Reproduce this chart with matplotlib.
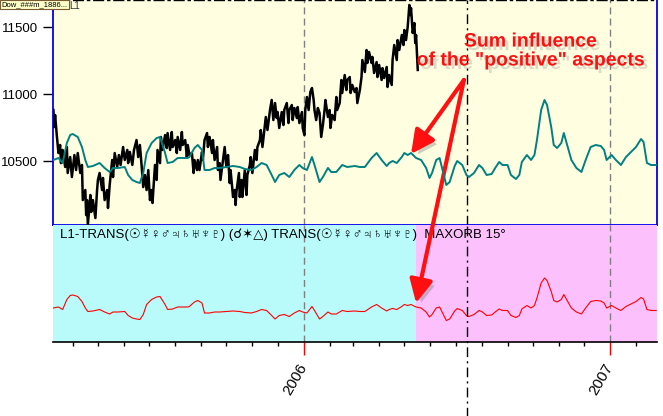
import numpy as np
import matplotlib
matplotlib.use('Agg')
import matplotlib.pyplot as plt
import matplotlib.dates as mdates
import matplotlib.patheffects as pe

plt.rcParams['font.family'] = ['Liberation Sans', 'DejaVu Sans']

# --- data (days counted from 2006-01-01) ---
dow_days = [-298, -297, -296, -294, -292, -290, -289, -287, -284, -282,
            -281, -278, -276, -273, -271, -269, -266, -264, -263, -260,
            -259, -258, -257, -254, -253, -251, -248, -246, -245, -243,
            -240, -239, -237, -234, -233, -231, -228, -227, -225, -222,
            -220, -218, -215, -213, -210, -209, -207, -204, -202, -199,
            -197, -195, -193, -191, -189, -187, -185, -183, -181, -180,
            -177, -175, -174, -171, -170, -168, -165, -163, -162, -159,
            -157, -156, -153, -151, -150, -147, -145, -144, -141, -139,
            -138, -136, -133, -131, -130, -127, -126, -124, -121, -120,
            -118, -115, -114, -112, -109, -108, -106, -103, -102, -100,
            -99, -96, -94, -92, -90, -88, -87, -84, -82, -81,
            -80, -77, -76, -74, -73, -70, -68, -67, -64, -63,
            -61, -58, -56, -55, -52, -51, -49, -46, -45, -43,
            -40, -38, -36, -34, -32, -31, -29, -26, -24, -23,
            -20, -18, -17, -14, -13, -11, -8, -7, -5, -2,
            -1, 1, 2, 4, 6, 8, 10, 12, 13, 15,
            17, 19, 21, 23, 25, 26, 29, 31, 32, 34,
            37, 39, 40, 43, 45, 46, 49, 51, 52, 55,
            56, 58, 61, 63, 64, 67, 69, 70, 73, 75,
            76, 78, 81, 82, 84, 87, 88, 90, 93, 94,
            96, 99, 100, 102, 105, 106, 108, 111, 112, 114,
            117, 119, 120, 122, 124, 126, 127, 128, 130, 132,
            133, 134, 136]
dow_price = [10883, 10756, 10846, 10696, 10562, 10622, 10487, 10585, 10458, 10607,
             10413, 10532, 10383, 10547, 10435, 10562, 10413, 10473, 10211, 10286,
             10099, 10211, 10025, 10249, 10122, 10211, 10077, 10286, 10361, 10413,
             10286, 10376, 10211, 10286, 10152, 10323, 10510, 10383, 10562, 10458,
             10547, 10473, 10607, 10510, 10585, 10487, 10570, 10473, 10585, 10659,
             10532, 10622, 10473, 10308, 10398, 10286, 10435, 10211, 10286, 10189,
             10473, 10361, 10585, 10487, 10682, 10585, 10696, 10599, 10711, 10585,
             10719, 10607, 10659, 10562, 10682, 10585, 10719, 10622, 10659, 10532,
             10622, 10547, 10562, 10413, 10510, 10435, 10510, 10435, 10570, 10510,
             10659, 10711, 10607, 10682, 10562, 10659, 10510, 10607, 10435, 10487,
             10361, 10510, 10607, 10458, 10547, 10338, 10435, 10234, 10286, 10174,
             10271, 10413, 10234, 10361, 10234, 10435, 10249, 10398, 10473, 10532,
             10413, 10585, 10510, 10607, 10659, 10734, 10607, 10771, 10831, 10734,
             10883, 10958, 10808, 10935, 10823, 10868, 10749, 10868, 10771, 10883,
             10935, 10786, 10883, 10920, 10808, 10898, 10823, 10905, 10786, 10868,
             10749, 10696, 10883, 10980, 10883, 11017, 11047, 10958, 10883, 10808,
             10898, 10861, 10682, 10771, 10883, 10958, 10831, 10883, 10749, 10846,
             10808, 10980, 10883, 10935, 11107, 11010, 11144, 11032, 11107, 11129,
             11010, 11070, 11017, 11047, 10935, 11032, 11129, 11256, 11167, 11331,
             11234, 11316, 11234, 11279, 11159, 11241, 11129, 11219, 11107, 11196,
             11122, 11204, 11055, 11144, 11070, 11256, 11368, 11256, 11405, 11331,
             11443, 11368, 11480, 11405, 11502, 11667, 11592, 11644, 11458, 11532,
             11383, 11443, 11182]

infl_days = [-298, -292, -287, -282, -278, -275, -269, -264, -260, -257,
             -251, -243, -237, -231, -227, -221, -213, -209, -204, -199,
             -195, -191, -187, -181, -175, -171, -165, -162, -156, -150,
             -144, -138, -136, -130, -126, -121, -118, -112, -106, -100,
             -92, -84, -76, -70, -62, -56, -50, -44, -38, -34,
             -29, -23, -17, -11, -5, -1, 4, 10, 13, 19,
             23, 29, 33, 39, 46, 52, 61, 67, 73, 81,
             87, 93, 99, 102, 106, 111, 117, 120, 124, 128,
             134, 140, 146, 150, 153, 158, 162, 165, 170, 174,
             180, 183, 189, 194, 197, 203, 209, 213, 218, 224,
             229, 233, 237, 243, 247, 253, 257, 260, 266, 271,
             275, 278, 283, 287, 290, 295, 298, 302, 307, 310,
             314, 319, 325, 331, 336, 342, 348, 354, 358, 361,
             367, 372, 378, 384, 390, 396, 402, 405, 409, 414,
             420]
infl_value = [40, 42, 37, 57, 65, 66, 63, 53, 40, 33,
              34, 37, 32, 28, 32, 32, 33, 25, 20, 18,
              17, 27, 47, 57, 62, 63, 47, 37, 38, 42,
              42, 42, 43, 52, 55, 50, 30, 30, 32, 32,
              33, 34, 33, 31, 30, 33, 37, 35, 25, 18,
              25, 27, 23, 30, 35, 32, 30, 43, 35, 18,
              23, 32, 28, 28, 35, 33, 34, 33, 33, 42,
              47, 40, 34, 37, 39, 37, 43, 47, 45, 47,
              42, 40, 32, 22, 27, 40, 42, 32, 15, 18,
              34, 39, 35, 25, 23, 27, 35, 32, 25, 26,
              33, 38, 35, 35, 25, 21, 25, 38, 45, 40,
              45, 60, 90, 100, 95, 73, 55, 52, 57, 67,
              55, 40, 32, 28, 40, 53, 55, 54, 50, 40,
              45, 40, 35, 43, 48, 53, 61, 58, 37, 35,
              35]

price_ticks = [10500, 11000, 11500]
view_days = (-298.5, 421)
pink_from_day = 134       # pink shading starts mid-May 2006
marker_day = 195          # dash-dot vertical marker, mid-July 2006
year_days = [0, 365]

base = mdates.date2num(np.datetime64('2006-01-01'))
d = lambda v: base + np.asarray(v, dtype=float)

fig = plt.figure(figsize=(6.63, 4.16), dpi=100)
W, H = 663, 416
ax = fig.add_axes([53 / W, 1 - 225 / H, 604 / W, 225 / H])
axb = fig.add_axes([53 / W, 1 - 342 / H, 604 / W, 117 / H])

# ---- top panel ----
ax.set_facecolor('#fffee1')
ax.plot(d(dow_days), dow_price, color='black', lw=1.8, zorder=3)
ax.set_xlim(d(view_days))
ax.set_ylim(10025, 11704)
ax.set_yticks(price_ticks)
ax.tick_params(axis='y', length=7, width=1, color='black', pad=4, labelsize=9.5)
ax.tick_params(axis='x', bottom=False, labelbottom=False)
for s in ['left', 'right', 'bottom']:
    ax.spines[s].set_color('#0000ee')
    ax.spines[s].set_linewidth(1.3)
ax.spines['top'].set_color('black')
ax.spines['top'].set_linestyle((0, (7, 3, 1.5, 3)))
ax.spines['top'].set_linewidth(1.0)
for yd in year_days:
    ax.axvline(d(yd), color='#808080', lw=1, ls=(0, (5, 3)), zorder=1)
ax.axvline(d(marker_day), color='black', lw=1, ls=(0, (7, 3, 1.5, 3)), zorder=1)

axt = ax.twinx()
axt.plot(d(infl_days), infl_value, color='#008080', lw=1.4, zorder=2)
axt.set_ylim(-25, 200)
axt.set_yticks([])
for s in axt.spines.values():
    s.set_visible(False)

shadow = [pe.withSimplePatchShadow(offset=(2.5, -2.5), shadow_rgbFace='0.55', alpha=0.3)]
txt = axt.text(0.791, 0.771, 'Sum influence\nof the "positive" aspects',
               transform=ax.transAxes, ha='center', va='center', color='#ff1010',
               fontsize=14, fontweight='bold', linespacing=1.15, zorder=10)
txt.set_path_effects(shadow)

arrow_kw = dict(arrowstyle='-|>,head_length=1.0,head_width=0.5', color='#ff1010',
                lw=3, shrinkA=0, shrinkB=0, mutation_scale=14,
                path_effects=[pe.withSimplePatchShadow(offset=(3, -3), shadow_rgbFace='0.45', alpha=0.35)])
axt.annotate('', xy=(d(128), 46), xytext=(d(191), 11107), textcoords=ax.transData,
             arrowprops=arrow_kw, annotation_clip=False, zorder=10)

# ---- bottom panel ----
axb.set_xlim(d(view_days))
axb.set_ylim(-28, 206)
axb.axvspan(d(view_days[0]), d(pink_from_day), color='#b9fbfb', lw=0, zorder=0)
axb.axvspan(d(pink_from_day), d(view_days[1]), color='#fcc0fc', lw=0, zorder=0)
axb.plot(d(infl_days), infl_value, color='red', lw=0.8, zorder=3)
for yd in year_days:
    axb.axvline(d(yd), color='#808080', lw=1, ls=(0, (5, 3)), zorder=1)
axb.axvline(d(marker_day), ymin=-0.64, ymax=1, color='black', lw=1,
            ls=(0, (7, 3, 1.5, 3)), clip_on=False, zorder=4)
axb.set_yticks([])
for s in ['left', 'right', 'top']:
    axb.spines[s].set_visible(False)
axb.spines['bottom'].set_linewidth(1.2)
axb.xaxis.set_major_locator(mdates.YearLocator())
axb.xaxis.set_minor_locator(mdates.MonthLocator(bymonth=range(2, 13)))
axb.xaxis.set_major_formatter(mdates.DateFormatter('%Y'))
axb.tick_params(axis='x', which='major', length=9, width=1, color='red', pad=7, labelsize=11)
axb.tick_params(axis='x', which='minor', length=3, width=1, color='black')
for lab in axb.get_xticklabels():
    lab.set_rotation(60)
    lab.set_ha('right')
    lab.set_va('center')
    lab.set_rotation_mode('anchor')

axb.text(0.012, 0.975, 'L1-TRANS(\u2609\u263f\u2640\u2642\u2643\u2644\u2645\u2646\u2647) (\u260c\u2736\u25b3) '
         'TRANS(\u2609\u263f\u2640\u2642\u2643\u2644\u2645\u2646\u2647)  MAXORB 15\u00b0',
         transform=axb.transAxes, ha='left', va='top', fontsize=9.5, zorder=5)

axb.annotate('', xy=(d(134), 50), xytext=(d(191), 11107), textcoords=ax.transData,
             arrowprops=arrow_kw, annotation_clip=False, zorder=10)

# window caption fragments at the very top
fig.text(0.002, 0.997, 'Dow_###m_1886...', fontsize=5.5, va='top', ha='left',
         bbox=dict(facecolor='#ffffc8', edgecolor='#7a5a30', pad=0.8, lw=0.8))
fig.text(69 / W, 0.997, 'L1', fontsize=7, va='top', ha='left', color='#303030')

fig.savefig('out.png', dpi=100)
